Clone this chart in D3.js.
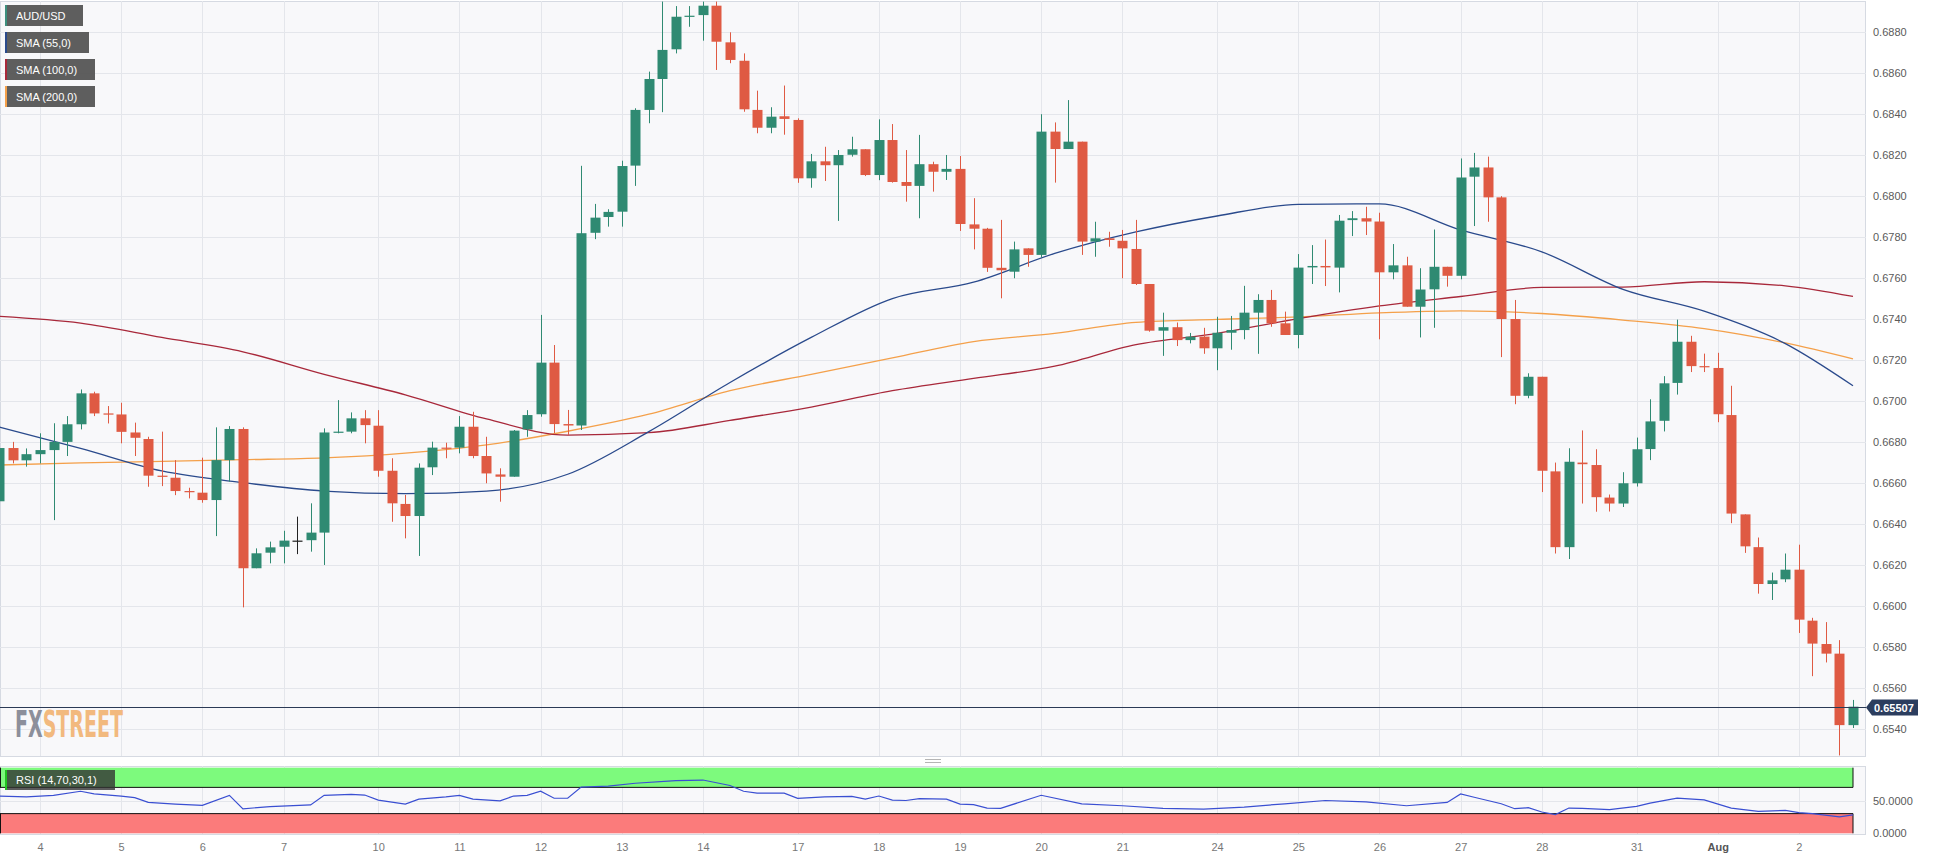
<!DOCTYPE html>
<html>
<head>
<meta charset="utf-8">
<script src="https://cdnjs.cloudflare.com/ajax/libs/d3/7.8.5/d3.min.js"></script>
<style>
  body { margin: 0; background: #ffffff; }
  text { font-family: "Liberation Sans", Arial, sans-serif; }
</style>
</head>
<body>
<div id="body"></div>
<script>
// AUD/USD 4h candles, 3 Jul 12:00 .. 2 Aug 16:00
var candleOpen = [
  .6651, .6677, .6671, .6674, .6676, .6680, .66886, .67037, .66939, .66934,
  .66846, .66814, .66635, .66625, .6656, .66552, .66516, .66711, .66863, .66183,
  .66259, .66288, .66318, .6632, .66357, .66846, .6685, .66915, .66879, .66659,
  .66497, .66438, .66676, .66772, .66772, .66874, .66731, .66641, .6663, .66861,
  .66935, .67187, .66887, .6688, .67821, .67898, .67924, .68149, .68421, .68572,
  .68717, .68876, .68884, .6893, .68751, .68661, .68421, .68334, .6839, .68372,
  .68087, .6817, .68151, .68202, .68229, .68103, .68274, .68069, .6805, .68156,
  .68119, .68133, .67862, .67841, .6765, .67631, .67745, .67713, .68315, .6823,
  .68266, .67778, .67794, .67782, .67742, .67571, .67343, .6736, .67297, .67314,
  .67257, .67333, .67346, .67431, .67493, .67379, .67322, .67652, .67659, .67651,
  .67883, .67892, .67876, .67628, .67662, .6746, .67545, .67655, .67611, .68095,
  .6814, .67994, .674, .67025, .67118, .66656, .66286, .66699, .66687, .66528,
  .66499, .66598, .66765, .66903, .67088, .67289, .6717, .67161, .66931, .66446,
  .66286, .66106, .66129, .66176, .65927, .65813, .65766, .65417
];
var candleHigh = [
  .6692, .6680, .66768, .66842, .66891, .66926, .67056, .67045, .66975, .66991,
  .66894, .66825, .6685, .66711, .66576, .66723, .66871, .66877, .66871, .6628,
  .66313, .66366, .66435, .665, .66866, .67004, .66944, .66955, .66955, .6672,
  .66541, .66695, .66801, .66796, .66926, .66947, .66825, .66671, .66858, .66955,
  .6742, .67273, .66956, .68148, .67962, .67936, .68173, .68429, .68608, .6895,
  .68928, .68928, .6895, .6895, .688, .68697, .68515, .68434, .6854, .6838,
  .68206, .68241, .68225, .6829, .68229, .68375, .68352, .68225, .68299, .68168,
  .68201, .68196, .6799, .67845, .67884, .67778, .67745, .684, .6836, .68469,
  .68266, .67875, .67826, .67835, .67884, .67571, .67431, .67383, .67332, .67357,
  .67411, .67415, .67562, .67521, .67542, .67436, .67717, .67761, .67788, .67908,
  .67927, .67948, .67919, .67766, .67704, .67648, .67837, .67655, .68184, .68211,
  .68193, .6800, .67493, .67135, .67118, .66699, .66769, .66856, .66764, .66543,
  .66652, .66821, .67008, .67121, .67397, .67318, .67231, .67235, .67074, .66446,
  .66333, .66162, .66255, .66298, .65941, .6592, .65832, .6554
];
var candleLow = [
  .6647, .66695, .66679, .66695, .66418, .66731, .66861, .66926, .6689, .66793,
  .66731, .66581, .66584, .6654, .66524, .66503, .6634, .66606, .65992, .66183,
  .66207, .66207, .66252, .66264, .66199, .66842, .66842, .66793, .6663, .6641,
  .66329, .66243, .66638, .6672, .66744, .6672, .66598, .66508, .6663, .66825,
  .66923, .66843, .66834, .66858, .6779, .67851, .67851, .6805, .68356, .6841,
  .68697, .68827, .68759, .68616, .68649, .68412, .68307, .68307, .683, .68065,
  .68041, .68074, .67879, .68193, .68098, .68078, .68066, .67973, .67892, .68022,
  .68079, .6783, .6774, .6763, .67501, .67599, .67655, .677, .68066, .6823,
  .67713, .67704, .67753, .67599, .67566, .67338, .6722, .67268, .67281, .6723,
  .6715, .6725, .67301, .6723, .67362, .67322, .67257, .67571, .67561, .6753,
  .67805, .6781, .67301, .67594, .6746, .6731, .67357, .67558, .67594, .67854,
  .67875, .67214, .66984, .67013, .66555, .66255, .66228, .66499, .66459, .6646,
  .66482, .66582, .66711, .66851, .67031, .67141, .67141, .66896, .66403, .66258,
  .66059, .66028, .66115, .65867, .65656, .65723, .65269, .65403
];
var candleClose = [
  .6677, .6671, .6674, .6676, .6680, .66886, .67037, .66939, .66933, .66849,
  .6682, .66635, .6663, .6656, .66555, .66516, .66711, .66863, .66183, .66256,
  .66285, .66318, .66318, .66357, .66846, .6685, .66915, .66882, .66659, .665,
  .66438, .66674, .66772, .66767, .66874, .66731, .66646, .6663, .66855, .66931,
  .67187, .66887, .6688, .67819, .67895, .67923, .68147, .68421, .68572, .68714,
  .68876, .68881, .6893, .68754, .68665, .68424, .68334, .68388, .68377, .68087,
  .6817, .68151, .68201, .68229, .68103, .68274, .68069, .6805, .68156, .68119,
  .68133, .67864, .67841, .6765, .67638, .6774, .67713, .68315, .6823, .68266,
  .67778, .67794, .67786, .67745, .67571, .67343, .6736, .67297, .67314, .67257,
  .67333, .67346, .67431, .67493, .67379, .67322, .67651, .67659, .67652, .6788,
  .67892, .67876, .67628, .67662, .6746, .67544, .67655, .67611, .68091, .6814,
  .67994, .674, .67025, .67118, .66659, .66286, .66703, .66691, .6653, .66499,
  .66598, .66764, .669, .67086, .67289, .6717, .67165, .66935, .6645, .6629,
  .66106, .66124, .66176, .65932, .65815, .65766, .65417, .65507
];

// day labels on the time axis (candle index of the 00:00 bar)
var dayLabels = ["4", "5", "6", "7", "10", "11", "12", "13", "14", "17", "18", "19", "20", "21",
                 "24", "25", "26", "27", "28", "31", "Aug", "2"];
var dayIdx = [3, 9, 15, 21, 28, 34, 40, 46, 52, 59, 65, 71, 77, 83, 90, 96, 102, 108, 114, 121, 127, 133];

var priceTicks = [0.6540, 0.6560, 0.6580, 0.6600, 0.6620, 0.6640, 0.6660, 0.6680, 0.6700,
                  0.6720, 0.6740, 0.6760, 0.6780, 0.6800, 0.6820, 0.6840, 0.6860, 0.6880];
var lastPrice = 0.65507;

// moving averages read at every 6th bar
var smaIdx = [0, 6, 12, 18, 24, 30, 36, 42, 48, 54, 60, 66, 72, 78, 84, 90, 96, 102, 108, 114, 120, 126, 132, 137];
var sma55 = [.66872, .66768, .66658, .66601, .6656, .66547, .6656, .66642, .6685, .6709, .6731, .6750,
             .6758, .6772, .67825, .67903, .6796, .67962, .67835, .67728, .67545, .67438, .6728, .67074];
var sma100 = [.67413, .6738, .6731, .6724, .6713, .6703, .66912, .66833, .66845, .66905, .6697, .6705,
              .6711, .6717, .67275, .6733, .67402, .67464, .6751, .67554, .67556, .67582, .67562, .6751];
var sma200 = [.66687, .66698, .66705, .66713, .66722, .66745, .66785, .66852, .66935, .6705, .6713, .6721,
              .6729, .6733, .67384, .67398, .6741, .6743, .6744, .67427, .67395, .67353, .67283, .67205];

// RSI(14)
var rsiIdx = [0, 2, 4, 6, 7, 9, 10, 11, 13, 15, 17, 18, 20, 23, 24, 26, 27, 28, 30, 31, 33, 34, 35, 37, 38,
              39, 40, 41, 42, 43, 45, 47, 50, 52, 54, 55, 56, 58, 59, 61, 63, 64, 65, 66, 67, 68, 70, 71,
              72, 73, 74, 77, 80, 83, 86, 89, 92, 95, 98, 101, 104, 107, 108, 109, 110, 111, 112, 113, 114,
              115, 116, 117, 119, 121, 122, 124, 126, 128, 130, 132, 133, 134, 136, 137];
var rsiVal = [56.8, 55.4, 57.8, 64.1, 60.2, 56.8, 54.4, 47.1, 44.6, 42.7, 57.8, 37.3, 40.7, 43.2, 57.8, 59.3,
              58.3, 50.5, 44.6, 52, 55.4, 57.8, 52, 49.5, 56.8, 57.8, 64.1, 53.4, 53.4, 70.5, 72, 76.3, 80.2,
              81.2, 72.9, 64.1, 61.2, 61.2, 53.4, 55.4, 56.3, 52, 56.8, 50.5, 50, 52.9, 52, 44.6, 43.7, 38.3,
              38, 58, 45, 42, 38, 37, 40, 45, 50, 48, 42, 47, 60, 55, 50, 45, 37.5, 39, 32.5, 28.5, 38.5, 38,
              36, 41, 46, 53.5, 51, 38.5, 33.5, 35, 31.5, 30, 25, 28];

var W = 1937, H = 860;
var plotL = 0, plotR = 1866, mainT = 1, mainB = 756, rsiT = 766, rsiB = 834;
var green = "#2f8a72", red = "#df5a43";

var svg = d3.select('#body')
  .append('svg')
  .attr('width', W)
  .attr('height', H);

var x = d3.scaleLinear().domain([0, 137]).range([-0.59, 1853.0]);
var y = d3.scaleLinear().domain([0.6540, 0.6880]).range([728.6, 32.3]);
var yr = d3.scaleLinear().domain([0, 100]).range([833.3, 767.7]);

var defs = svg.append('defs');
defs.append('clipPath').attr('id', 'clipMain')
  .append('rect').attr('x', plotL).attr('y', mainT).attr('width', plotR - plotL).attr('height', mainB - mainT);
defs.append('clipPath').attr('id', 'clipRsi')
  .append('rect').attr('x', plotL).attr('y', rsiT).attr('width', plotR - plotL).attr('height', rsiB - rsiT);

// panels
svg.append('rect').attr('x', plotL + 0.5).attr('y', mainT + 0.5).attr('width', plotR - plotL - 1).attr('height', mainB - mainT)
  .style('fill', '#f8f8fa').style('stroke', '#d6dae2');
svg.append('rect').attr('x', plotL + 0.5).attr('y', rsiT + 0.5).attr('width', plotR - plotL - 1).attr('height', rsiB - rsiT)
  .style('fill', '#f8f8fa').style('stroke', '#d6dae2');

// grid
var grid = svg.append('g').attr('clip-path', 'url(#clipMain)');
grid.selectAll('.hg').data(priceTicks).enter().append('line')
  .attr('x1', plotL).attr('x2', plotR)
  .attr('y1', function(d) { return Math.round(y(d)) + 0.5; })
  .attr('y2', function(d) { return Math.round(y(d)) + 0.5; })
  .style('stroke', '#e4e6eb');
grid.selectAll('.vg').data(dayIdx).enter().append('line')
  .attr('x1', function(d) { return Math.round(x(d)) + 0.5; })
  .attr('x2', function(d) { return Math.round(x(d)) + 0.5; })
  .attr('y1', mainT).attr('y2', mainB)
  .style('stroke', '#e4e6eb');

var rgrid = svg.append('g').attr('clip-path', 'url(#clipRsi)');
rgrid.selectAll('.vg').data(dayIdx).enter().append('line')
  .attr('x1', function(d) { return Math.round(x(d)) + 0.5; })
  .attr('x2', function(d) { return Math.round(x(d)) + 0.5; })
  .attr('y1', rsiT).attr('y2', rsiB)
  .style('stroke', '#e4e6eb');
rgrid.append('line').attr('x1', plotL).attr('x2', plotR)
  .attr('y1', Math.round(yr(50)) + 0.5).attr('y2', Math.round(yr(50)) + 0.5)
  .style('stroke', '#e4e6eb');

// moving averages
var main = svg.append('g').attr('clip-path', 'url(#clipMain)');
function smaLine(vals) {
  return d3.line()
    .x(function(d, i) { return x(smaIdx[i]); })
    .y(function(d) { return y(d); })
    .curve(d3.curveMonotoneX)(vals);
}
main.append('path').attr('d', smaLine(sma200)).style('fill', 'none').style('stroke', '#f4a04a').style('stroke-width', 1.3);
main.append('path').attr('d', smaLine(sma100)).style('fill', 'none').style('stroke', '#a8283a').style('stroke-width', 1.3);
main.append('path').attr('d', smaLine(sma55)).style('fill', 'none').style('stroke', '#2a4a8c').style('stroke-width', 1.3);

// candles
function candleColor(i) {
  if (candleClose[i] > candleOpen[i]) return green;
  if (candleClose[i] < candleOpen[i]) return red;
  return '#222';
}
var candle = main.selectAll('.candle')
  .data(d3.range(candleOpen.length))
  .enter().append('g').attr('class', 'candle');

candle.append('line')
  .attr('x1', function(i) { return Math.round(x(i)) + 0.5; })
  .attr('x2', function(i) { return Math.round(x(i)) + 0.5; })
  .attr('y1', function(i) { return y(candleHigh[i]); })
  .attr('y2', function(i) { return y(candleLow[i]); })
  .style('stroke', candleColor)
  .style('stroke-width', 1);

candle.append('rect')
  .attr('x', function(i) { return Math.round(x(i)) - 4.5; })
  .attr('width', 10)
  .attr('y', function(i) { return y(Math.max(candleOpen[i], candleClose[i])); })
  .attr('height', function(i) {
    return Math.max(1.2, Math.abs(y(candleOpen[i]) - y(candleClose[i])));
  })
  .style('fill', candleColor);

// last price line
main.append('line')
  .attr('x1', plotL).attr('x2', plotR)
  .attr('y1', Math.round(y(lastPrice)) + 0.5).attr('y2', Math.round(y(lastPrice)) + 0.5)
  .style('stroke', '#2b3a55').style('stroke-width', 1);

// FXSTREET watermark: natural size text, squeezed with a horizontal scale
var logo = svg.append('g');
var fx = logo.append('text').attr('x', 0).attr('y', 0)
  .style('font-family', '"DejaVu Sans Condensed", "DejaVu Sans", sans-serif')
  .style('font-weight', 'bold').style('font-size', '38px').style('fill', '#8c8f9b')
  .text('FX');
var fxW = fx.node().getComputedTextLength();
var st = logo.append('text').attr('x', fxW).attr('y', 0)
  .style('font-family', '"DejaVu Sans Condensed", "DejaVu Sans", sans-serif')
  .style('font-weight', 'bold').style('font-size', '38px').style('fill', '#f2b97e')
  .text('STREET');
var logoW = fxW + st.node().getComputedTextLength();
logo.attr('transform', 'translate(15,737) scale(' + (108 / logoW) + ',1)');

// y axis
var yAxis = d3.axisRight(y).tickValues(priceTicks).tickFormat(d3.format('.4f')).tickSize(0).tickPadding(7);
var ya = svg.append('g').attr('transform', 'translate(' + plotR + ',0)').call(yAxis);
ya.select('.domain').remove();
ya.selectAll('text').style('font-family', '"Liberation Sans", Arial, sans-serif')
  .style('font-size', '11px').style('fill', '#5a5a5a');

// price tag
var py = Math.round(y(lastPrice)) + 0.5;
svg.append('path')
  .attr('d', 'M1866,' + py + 'L1872,' + (py - 8) + 'L1918,' + (py - 8) + 'L1918,' + (py + 8) + 'L1872,' + (py + 8) + 'Z')
  .style('fill', '#2b3d5e');
svg.append('text').attr('x', 1874).attr('y', py + 4)
  .style('font-size', '11px').style('font-weight', 'bold').style('fill', '#ffffff')
  .text(d3.format('.5f')(lastPrice));

// RSI panel
var rsi = svg.append('g').attr('clip-path', 'url(#clipRsi)');
var bandR = x(137);
rsi.append('rect').attr('x', 0).attr('y', yr(100)).attr('width', bandR).attr('height', yr(70) - yr(100))
  .style('fill', '#7dfa7d');
rsi.append('rect').attr('x', 0).attr('y', yr(30)).attr('width', bandR).attr('height', yr(0) - yr(30))
  .style('fill', '#fb7b7b');
rsi.append('line').attr('x1', 0).attr('x2', bandR).attr('y1', yr(70)).attr('y2', yr(70)).style('stroke', '#111');
rsi.append('line').attr('x1', 0).attr('x2', bandR).attr('y1', yr(30)).attr('y2', yr(30)).style('stroke', '#111');
rsi.append('line').attr('x1', bandR).attr('x2', bandR).attr('y1', yr(100)).attr('y2', yr(70)).style('stroke', '#111');
rsi.append('line').attr('x1', bandR).attr('x2', bandR).attr('y1', yr(30)).attr('y2', yr(0)).style('stroke', '#111');
rsi.append('line').attr('x1', 0.5).attr('x2', 0.5).attr('y1', yr(100)).attr('y2', yr(70)).style('stroke', '#111');
rsi.append('line').attr('x1', 0.5).attr('x2', 0.5).attr('y1', yr(30)).attr('y2', yr(0)).style('stroke', '#111');

var rsiPath = d3.line()
  .x(function(d, i) { return x(rsiIdx[i]); })
  .y(function(d) { return yr(d); });
rsi.append('path').attr('d', rsiPath(rsiVal))
  .style('fill', 'none').style('stroke', '#3a4fd2').style('stroke-width', 1.2);

var ra = svg.append('g').attr('transform', 'translate(' + plotR + ',0)')
  .call(d3.axisRight(yr).tickValues([0, 50]).tickFormat(d3.format('.4f')).tickSize(0).tickPadding(7));
ra.select('.domain').remove();
ra.selectAll('text').style('font-family', '"Liberation Sans", Arial, sans-serif')
  .style('font-size', '11px').style('fill', '#5a5a5a');

// splitter handle
svg.append('line').attr('x1', 925).attr('x2', 941).attr('y1', 759.5).attr('y2', 759.5).style('stroke', '#b5b5b5');
svg.append('line').attr('x1', 925).attr('x2', 941).attr('y1', 762.5).attr('y2', 762.5).style('stroke', '#b5b5b5');

// x axis
var xAxis = d3.axisBottom(x).tickValues(dayIdx)
  .tickFormat(function(d, i) { return dayLabels[i]; })
  .tickSize(0).tickPadding(9);
var xa = svg.append('g').attr('transform', 'translate(0,' + rsiB + ')').call(xAxis);
xa.select('.domain').remove();
xa.selectAll('text').style('font-family', '"Liberation Sans", Arial, sans-serif')
  .style('font-size', '11px')
  .style('fill', function(d, i) { return dayLabels[i] === 'Aug' ? '#555' : '#777'; })
  .style('font-weight', function(d, i) { return dayLabels[i] === 'Aug' ? 'bold' : 'normal'; });

// legend boxes
var legendItems = [
  { label: 'AUD/USD', color: '#3d8f7e', y: 5, w: 78 },
  { label: 'SMA (55,0)', color: '#2a4a8c', y: 32, w: 84 },
  { label: 'SMA (100,0)', color: '#a8283a', y: 59, w: 90 },
  { label: 'SMA (200,0)', color: '#f4a04a', y: 86, w: 90 }
];
var legend = svg.append('g');
var li = legend.selectAll('.li').data(legendItems).enter().append('g');
li.append('rect').attr('x', 5).attr('y', function(d) { return d.y; })
  .attr('width', function(d) { return d.w; }).attr('height', 21)
  .style('fill', '#555').style('opacity', 0.95);
li.append('rect').attr('x', 5).attr('y', function(d) { return d.y; })
  .attr('width', 2).attr('height', 21).style('fill', function(d) { return d.color; });
li.append('text').attr('x', 16).attr('y', function(d) { return d.y + 15; })
  .style('font-size', '11px').style('fill', '#fff')
  .text(function(d) { return d.label; });

var rl = svg.append('g');
rl.append('rect').attr('x', 5).attr('y', 770).attr('width', 110).attr('height', 20)
  .style('fill', '#333').style('opacity', 0.8);
rl.append('rect').attr('x', 5).attr('y', 770).attr('width', 2).attr('height', 20).style('fill', '#22c322');
rl.append('text').attr('x', 16).attr('y', 784)
  .style('font-size', '11px').style('fill', '#fff')
  .text('RSI (14,70,30,1)');
</script>
</body>
</html>
